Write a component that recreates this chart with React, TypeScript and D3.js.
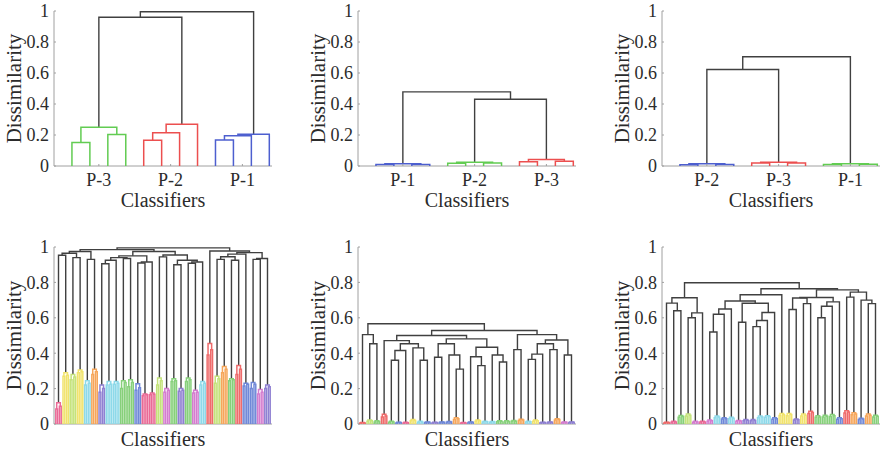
import * as d3 from 'd3';

// palette used for the clusters
const GREEN = '#62cc52';
const RED = '#ec4f4f';
const BLUE = '#4d5fcf';
const c = {
  red: '#ef6b6b', pink: '#ea6a96', yellow: '#f1e36c', cyan: '#8dd9e9', orange: '#f6a65a',
  purple: '#8f80d2', green: '#86d07a', lime: '#c4e37a', blue: '#6f88d8', magenta: '#d47ccf',
};

const yTicks = [0, 0.2, 0.4, 0.6, 0.8, 1];

// each cluster = 4 leaves; inner = merge heights between adjacent leaves of the cluster,
// links = merge heights between adjacent clusters (left to right)
const p1Inner = [[0.151, 0.25, 0.203], [0.166, 0.215, 0.27], [0.168, 0.195, 0.205]];
const p1Links = [0.96, 0.995];
const p1Labels = ['P-3', 'P-2', 'P-1'];
const p1Colors = [GREEN, RED, BLUE];

const p2Inner = [[0.01, 0.015, 0.01], [0.018, 0.024, 0.02], [0.028, 0.042, 0.03]];
const p2Links = [0.478, 0.431];
const p2Labels = ['P-1', 'P-2', 'P-3'];
const p2Colors = [BLUE, GREEN, RED];

const p3Inner = [[0.008, 0.014, 0.01], [0.02, 0.025, 0.02], [0.01, 0.014, 0.012]];
const p3Links = [0.623, 0.705];
const p3Labels = ['P-2', 'P-3', 'P-1'];
const p3Colors = [BLUE, RED, GREEN];

const p4Inner = [
  [0.085, 0.12, 0.1], [0.27, 0.29, 0.275], [0.25, 0.28, 0.265], [0.29, 0.305, 0.295],
  [0.22, 0.245, 0.23], [0.28, 0.31, 0.295], [0.18, 0.22, 0.2], [0.22, 0.24, 0.225],
  [0.225, 0.24, 0.23], [0.2, 0.245, 0.235], [0.21, 0.25, 0.235], [0.19, 0.227, 0.205],
  [0.16, 0.17, 0.165], [0.165, 0.175, 0.168], [0.22, 0.26, 0.245], [0.18, 0.2, 0.19],
  [0.24, 0.255, 0.245], [0.185, 0.2, 0.19], [0.24, 0.26, 0.25], [0.175, 0.19, 0.18],
  [0.22, 0.24, 0.23], [0.39, 0.455, 0.42], [0.23, 0.27, 0.255], [0.29, 0.325, 0.31],
  [0.245, 0.255, 0.25], [0.28, 0.33, 0.31], [0.215, 0.23, 0.225], [0.2, 0.235, 0.225],
  [0.17, 0.195, 0.18], [0.2, 0.22, 0.21],
];
const p4Links = [
  0.953, 0.965, 0.94, 0.975, 0.93, 0.985, 0.905, 0.925, 0.94, 0.935,
  0.95, 0.91, 0.915, 0.975, 0.944, 0.955, 0.9, 0.925, 0.908, 0.915,
  0.995, 0.977, 0.93, 0.945, 0.925, 0.96, 0.968, 0.93, 0.935,
];
const p4Colors = [
  c.pink, c.yellow, c.lime, c.yellow, c.cyan, c.orange, c.purple, c.cyan, c.cyan, c.green,
  c.green, c.blue, c.pink, c.pink, c.lime, c.magenta, c.green, c.purple, c.green, c.magenta,
  c.cyan, c.red, c.lime, c.orange, c.green, c.red, c.blue, c.blue, c.magenta, c.purple,
];

const p5Inner = [
  [0.005, 0.008, 0.006], [0.015, 0.022, 0.018], [0.012, 0.018, 0.014], [0.04, 0.055, 0.045],
  [0.01, 0.015, 0.012], [0.006, 0.01, 0.008], [0.006, 0.01, 0.007], [0.018, 0.025, 0.02],
  [0.01, 0.015, 0.012], [0.008, 0.012, 0.01], [0.006, 0.01, 0.008], [0.008, 0.012, 0.01],
  [0.01, 0.014, 0.011], [0.025, 0.035, 0.03], [0.005, 0.008, 0.006], [0.008, 0.012, 0.01],
  [0.016, 0.022, 0.018], [0.012, 0.016, 0.013], [0.01, 0.014, 0.012], [0.013, 0.018, 0.015],
  [0.012, 0.018, 0.014], [0.015, 0.02, 0.016], [0.02, 0.027, 0.022], [0.012, 0.016, 0.013],
  [0.016, 0.022, 0.018], [0.007, 0.01, 0.008], [0.008, 0.012, 0.01], [0.022, 0.03, 0.025],
  [0.008, 0.012, 0.01], [0.009, 0.012, 0.01],
];
const p5Links = [
  0.505, 0.453, 0.566, 0.471, 0.36, 0.415, 0.453, 0.43, 0.36, 0.5,
  0.377, 0.453, 0.39, 0.31, 0.481, 0.38, 0.33, 0.434, 0.39, 0.35,
  0.528, 0.42, 0.505, 0.365, 0.395, 0.453, 0.42, 0.475, 0.39,
];
const p5Colors = [
  c.red, c.lime, c.green, c.red, c.green, c.blue, c.pink, c.yellow, c.cyan, c.blue,
  c.purple, c.blue, c.blue, c.orange, c.pink, c.blue, c.yellow, c.cyan, c.cyan, c.green,
  c.green, c.green, c.orange, c.cyan, c.yellow, c.purple, c.purple, c.orange, c.magenta, c.purple,
];

const p6Inner = [
  [0.006, 0.01, 0.008], [0.01, 0.015, 0.012], [0.038, 0.048, 0.042], [0.045, 0.057, 0.05],
  [0.01, 0.015, 0.012], [0.011, 0.015, 0.012], [0.016, 0.022, 0.018], [0.036, 0.045, 0.04],
  [0.028, 0.035, 0.03], [0.03, 0.038, 0.033], [0.015, 0.02, 0.017], [0.019, 0.025, 0.021],
  [0.018, 0.025, 0.02], [0.035, 0.045, 0.04], [0.038, 0.047, 0.042], [0.027, 0.035, 0.03],
  [0.048, 0.06, 0.052], [0.047, 0.06, 0.053], [0.022, 0.028, 0.024], [0.045, 0.057, 0.05],
  [0.06, 0.072, 0.065], [0.038, 0.047, 0.04], [0.04, 0.05, 0.044], [0.042, 0.053, 0.046],
  [0.027, 0.035, 0.03], [0.062, 0.075, 0.068], [0.052, 0.064, 0.057], [0.025, 0.032, 0.028],
  [0.045, 0.057, 0.05], [0.04, 0.05, 0.044],
];
const p6Links = [
  0.683, 0.64, 0.713, 0.6, 0.628, 0.798, 0.52, 0.62, 0.65, 0.695,
  0.575, 0.682, 0.55, 0.585, 0.63, 0.73, 0.764, 0.647, 0.712, 0.68,
  0.715, 0.6, 0.665, 0.69, 0.758, 0.717, 0.745, 0.7, 0.68,
];
const p6Colors = [
  c.red, c.pink, c.green, c.lime, c.magenta, c.pink, c.magenta, c.cyan, c.blue, c.cyan,
  c.magenta, c.purple, c.purple, c.cyan, c.cyan, c.blue, c.yellow, c.yellow, c.purple, c.yellow,
  c.red, c.green, c.green, c.green, c.blue, c.red, c.orange, c.blue, c.orange, c.green,
];

const FONT = '"Liberation Serif", "Times New Roman", serif';
const TEXT = '#2b2b2b';
const LINK = '#404040';
const AXIS = '#a0a0a0';

type Node = { x: number; h: number; lo: number; hi: number; left?: Node; right?: Node };

// leaf order is fixed, so the tree follows from the adjacent merge heights
function buildTree(gaps: number[], lo: number, hi: number): Node {
  if (lo === hi) return { x: lo + 1, h: 0, lo, hi };
  let k = lo;
  for (let i = lo; i < hi; i++) if (gaps[i] > gaps[k]) k = i;
  const left = buildTree(gaps, lo, k);
  const right = buildTree(gaps, k + 1, hi);
  return { x: (left.x + right.x) / 2, h: gaps[k], lo, hi, left, right };
}

function collect(n: Node, out: Node[]) {
  if (!n.left || !n.right) return;
  out.push(n);
  collect(n.left, out);
  collect(n.right, out);
}

type PanelProps = {
  inner: number[][]; links: number[]; colors: string[]; labels?: string[];
  x0: number; width: number; yBottom: number; yTop: number; xMax: number;
};

function Dendrogram({ inner, links, colors, labels, x0, width, yBottom, yTop, xMax }: PanelProps) {
  const gaps: number[] = [];
  inner.forEach((g, i) => {
    gaps.push(...g);
    if (i < links.length) gaps.push(links[i]);
  });
  const n = gaps.length + 1;
  const root = buildTree(gaps, 0, n - 1);
  const nodes: Node[] = [];
  collect(root, nodes);

  const x = d3.scaleLinear().domain([0, xMax]).range([x0, x0 + width]);
  const y = d3.scaleLinear().domain([0, 1]).range([yBottom, yTop]);
  const per = n / inner.length;

  const colorOf = (nd: Node) => {
    const a = Math.floor(nd.lo / per);
    const b = Math.floor(nd.hi / per);
    return a === b ? colors[a] : LINK;
  };
  const pathOf = (nd: Node) =>
    `M${x(nd.left!.x)},${y(nd.left!.h)}V${y(nd.h)}H${x(nd.right!.x)}V${y(nd.right!.h)}`;

  const dark = nodes.filter((nd) => colorOf(nd) === LINK);
  const colored = nodes.filter((nd) => colorOf(nd) !== LINK);
  const midX = x0 + width / 2;

  return (
    <g>
      <line x1={x0} x2={x0} y1={y(0)} y2={y(1)} stroke={AXIS} strokeWidth={1} />
      <line x1={x0} x2={x0 + width} y1={y(0)} y2={y(0)} stroke={AXIS} strokeWidth={1} />
      {yTicks.map((t) => (
        <g key={t}>
          <line x1={x0} x2={x0 + 2} y1={y(t)} y2={y(t)} stroke={AXIS} />
          <text x={x0 - 5} y={y(t)} dy="0.35em" textAnchor="end" fontSize={18}
            fontFamily={FONT} fill={TEXT}>{t}</text>
        </g>
      ))}
      {dark.map((nd, i) => (
        <path key={'d' + i} d={pathOf(nd)} fill="none" stroke={LINK} strokeWidth={1.4} />
      ))}
      {colored.map((nd, i) => (
        <path key={'c' + i} d={pathOf(nd)} fill="none" stroke={colorOf(nd)} strokeWidth={1.5} />
      ))}
      {labels && labels.map((lab, i) => {
        const cx = x(i * per + (per + 1) / 2);
        return (
          <g key={lab}>
            <line x1={cx} x2={cx} y1={y(0)} y2={y(0) - 2} stroke={AXIS} />
            <text x={cx} y={yBottom + 20} textAnchor="middle" fontSize={18}
              fontFamily={FONT} fill={TEXT}>{lab}</text>
          </g>
        );
      })}
      <text x={midX} y={yBottom + (labels ? 41 : 22)} textAnchor="middle" fontSize={20}
        fontFamily={FONT} fill={TEXT}>Classifiers</text>
      <text transform={`translate(${x0 - 33},${(y(0) + y(1)) / 2}) rotate(-90)`}
        textAnchor="middle" fontSize={21} fontFamily={FONT} fill={TEXT}>Dissimilarity</text>
    </g>
  );
}

export default function App() {
  const cols = [54, 358, 662];
  const top = { yBottom: 166, yTop: 11, width: 218, xMax: 12.15 };
  const bot = { yBottom: 424, yTop: 247, width: 218, xMax: 121 };
  return (
    <svg width={883} height={456} style={{ position: 'absolute', left: 0, top: 0, background: '#fff' }}>
      <Dendrogram inner={p1Inner} links={p1Links} colors={p1Colors} labels={p1Labels} x0={cols[0]} {...top} />
      <Dendrogram inner={p2Inner} links={p2Links} colors={p2Colors} labels={p2Labels} x0={cols[1]} {...top} />
      <Dendrogram inner={p3Inner} links={p3Links} colors={p3Colors} labels={p3Labels} x0={cols[2]} {...top} />
      <Dendrogram inner={p4Inner} links={p4Links} colors={p4Colors} x0={cols[0]} {...bot} />
      <Dendrogram inner={p5Inner} links={p5Links} colors={p5Colors} x0={cols[1]} {...bot} />
      <Dendrogram inner={p6Inner} links={p6Links} colors={p6Colors} x0={cols[2]} {...bot} />
    </svg>
  );
}
